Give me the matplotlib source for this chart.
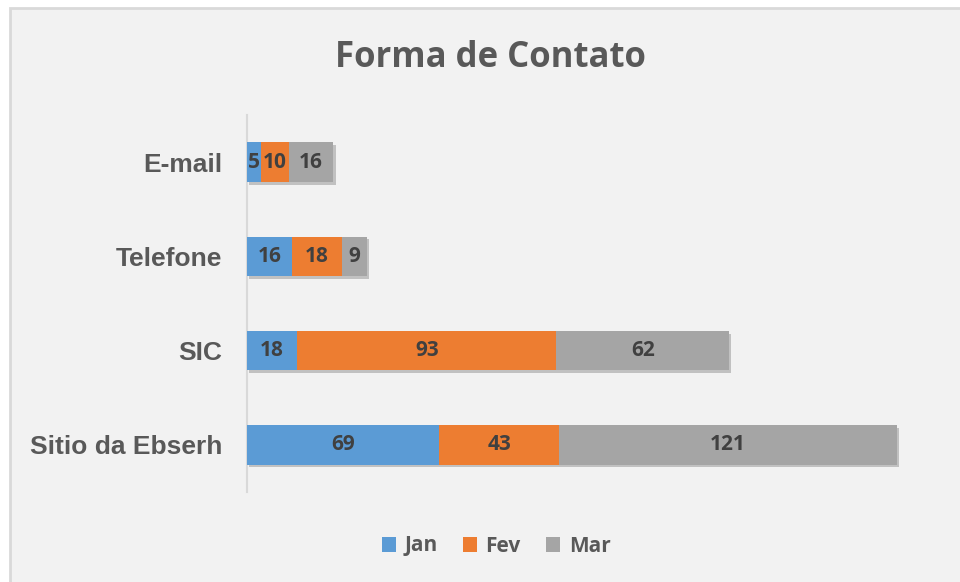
import matplotlib.pyplot as plt
import matplotlib.patheffects as pe
from matplotlib.patches import Rectangle, Patch

categories = ["Sitio da Ebserh", "SIC", "Telefone", "E-mail"]
series_names = ["Jan", "Fev", "Mar"]
jan = [69, 18, 16, 5]
fev = [43, 93, 18, 10]
mar = [121, 62, 9, 16]
colors = ["#5B9BD5", "#ED7D31", "#A5A5A5"]

fig = plt.figure(figsize=(9.6, 5.82), dpi=100)
fig.patch.set_facecolor("white")
# chart area background with border
bg = Rectangle((10 / 960, -0.01), 1.0, 1 - 8 / 582 + 0.01,
               transform=fig.transFigure, facecolor="#F2F2F2",
               edgecolor="#D9D9D9", linewidth=2, zorder=-10)
fig.add_artist(bg)

ax = fig.add_axes([247 / 960, 1 - 492 / 582, (944 - 247) / 960, (492 - 115) / 582])
ax.set_facecolor("none")

y = range(len(categories))
left = [0] * len(categories)
shadow = [pe.SimplePatchShadow(offset=(1.5, -2), shadow_rgbFace="#000000", alpha=0.2), pe.Normal()]
for name, vals, col in zip(series_names, [jan, fev, mar], colors):
    bars = ax.barh(y, vals, left=left, height=0.42, color=col, zorder=3)
    for b in bars:
        b.set_path_effects(shadow)
    for yi, v, l in zip(y, vals, left):
        ax.text(l + v / 2, yi, str(v), ha="center", va="center", fontsize=15,
                fontweight="bold", color="#404040", family="Open Sans", zorder=5)
    left = [a + b for a, b in zip(left, vals)]

ax.set_xlim(0, 250)
ax.set_ylim(-0.5, len(categories) - 0.5)
ax.set_xticks([])
ax.set_yticks(list(y))
ax.set_yticklabels(categories, fontsize=19, fontweight="bold", color="#595959",
                   family="Liberation Sans")
ax.tick_params(axis="y", length=0, pad=18)
for s in ["top", "right", "bottom"]:
    ax.spines[s].set_visible(False)
ax.spines["left"].set_color("#D9D9D9")
ax.spines["left"].set_linewidth(1.5)

fig.text(490 / 960, 1 - 58 / 582, "Forma de Contato", ha="center", va="center",
         fontsize=25, fontweight="bold", color="#595959", family="Open Sans")

handles = [Patch(facecolor=c, label=n) for n, c in zip(series_names, colors)]
leg = fig.legend(handles=handles, loc="center", bbox_to_anchor=(496 / 960, 1 - 546 / 582), ncol=3,
                 frameon=False, handlelength=0.7, handleheight=0.7, handletextpad=0.4,
                 columnspacing=1.2, prop={"family": "Open Sans", "weight": "bold", "size": 15})
for t in leg.get_texts():
    t.set_color("#595959")

fig.savefig("out.png", dpi=100, facecolor=fig.get_facecolor())
